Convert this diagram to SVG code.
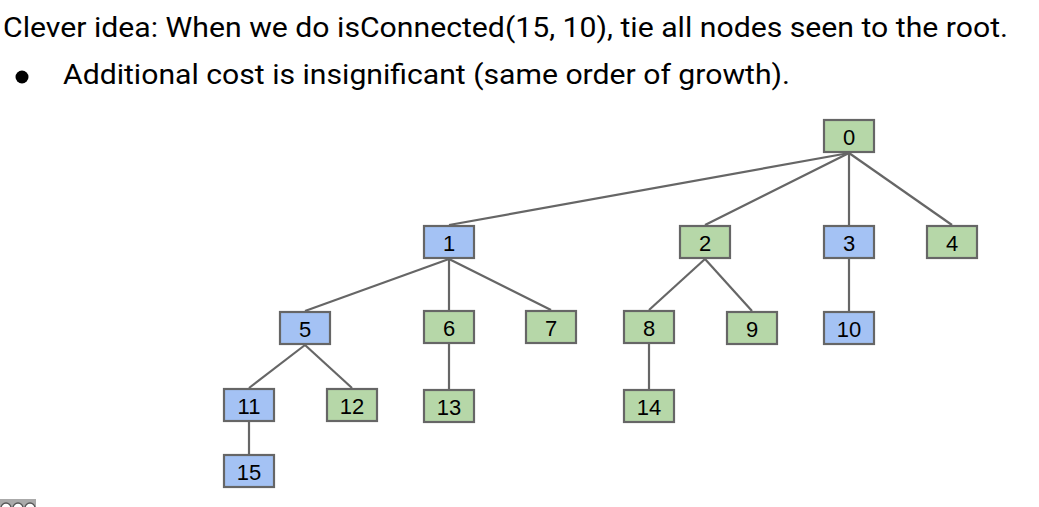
<svg xmlns="http://www.w3.org/2000/svg" width="1039" height="507" viewBox="0 0 1039 507">
<style>
.t{font-family:Roboto,"Liberation Sans",sans-serif;font-size:28px;fill:#000}
.n rect{stroke:#666;stroke-width:2.2}
.g rect{fill:#b6d7a8}
.b rect{fill:#a4c2f4}
.n text{font-family:"Liberation Sans",Arial,sans-serif;font-size:22px;text-anchor:middle;fill:#000}
#edges line{stroke:#666;stroke-width:2.2}
</style>
<rect width="1039" height="507" fill="#fff"/>
<text class="t" x="3" y="37" textLength="1005" lengthAdjust="spacingAndGlyphs">Clever idea: When we do isConnected(15, 10), tie all nodes seen to the root.</text>
<circle cx="22" cy="77" r="6.5" fill="#000"/>
<text class="t" x="63" y="84" textLength="727" lengthAdjust="spacingAndGlyphs">Additional cost is insignificant (same order of growth).</text>
<g id="edges">
<line x1="849" y1="153" x2="449" y2="225"/>
<line x1="849" y1="153" x2="705" y2="225"/>
<line x1="849" y1="153" x2="849" y2="225"/>
<line x1="849" y1="153" x2="952" y2="225"/>
<line x1="449" y1="259" x2="305" y2="311"/>
<line x1="449" y1="259" x2="449" y2="310"/>
<line x1="449" y1="259" x2="551" y2="310"/>
<line x1="705" y1="259" x2="649" y2="310"/>
<line x1="705" y1="259" x2="752" y2="311"/>
<line x1="849" y1="259" x2="849" y2="311"/>
<line x1="305" y1="345" x2="249" y2="388"/>
<line x1="305" y1="345" x2="352" y2="388"/>
<line x1="449" y1="344" x2="449" y2="389"/>
<line x1="649" y1="344" x2="649" y2="389"/>
<line x1="249" y1="422" x2="249" y2="454"/>
</g>
<g id="n0" class="n g"><rect x="824" y="120" width="50" height="32"/><text x="849" y="145">0</text></g>
<g id="n1" class="n b"><rect x="424" y="226" width="50" height="32"/><text x="449" y="251">1</text></g>
<g id="n2" class="n g"><rect x="680" y="226" width="50" height="32"/><text x="705" y="251">2</text></g>
<g id="n3" class="n b"><rect x="824" y="226" width="50" height="32"/><text x="849" y="251">3</text></g>
<g id="n4" class="n g"><rect x="927" y="226" width="50" height="32"/><text x="952" y="251">4</text></g>
<g id="n5" class="n b"><rect x="280" y="312" width="50" height="32"/><text x="305" y="337">5</text></g>
<g id="n6" class="n g"><rect x="424" y="311" width="50" height="32"/><text x="449" y="336">6</text></g>
<g id="n7" class="n g"><rect x="526" y="311" width="50" height="32"/><text x="551" y="336">7</text></g>
<g id="n8" class="n g"><rect x="624" y="311" width="50" height="32"/><text x="649" y="336">8</text></g>
<g id="n9" class="n g"><rect x="727" y="312" width="50" height="32"/><text x="752" y="337">9</text></g>
<g id="n10" class="n b"><rect x="824" y="312" width="50" height="32"/><text x="849" y="337">10</text></g>
<g id="n11" class="n b"><rect x="224" y="389" width="50" height="32"/><text x="249" y="414">11</text></g>
<g id="n12" class="n g"><rect x="327" y="389" width="50" height="32"/><text x="352" y="414">12</text></g>
<g id="n13" class="n g"><rect x="424" y="390" width="50" height="32"/><text x="449" y="415">13</text></g>
<g id="n14" class="n g"><rect x="624" y="390" width="50" height="32"/><text x="649" y="415">14</text></g>
<g id="n15" class="n b"><rect x="224" y="455" width="50" height="32"/><text x="249" y="480">15</text></g>
<g id="badge">
<rect x="0" y="499" width="36" height="8" fill="#aaa"/>
<circle cx="6" cy="508" r="5" fill="#fff" stroke="#555" stroke-width="1.3"/>
<circle cx="18" cy="508" r="5" fill="#fff" stroke="#555" stroke-width="1.3"/>
<circle cx="30" cy="508" r="5" fill="#fff" stroke="#555" stroke-width="1.3"/>
</g>
</svg>
